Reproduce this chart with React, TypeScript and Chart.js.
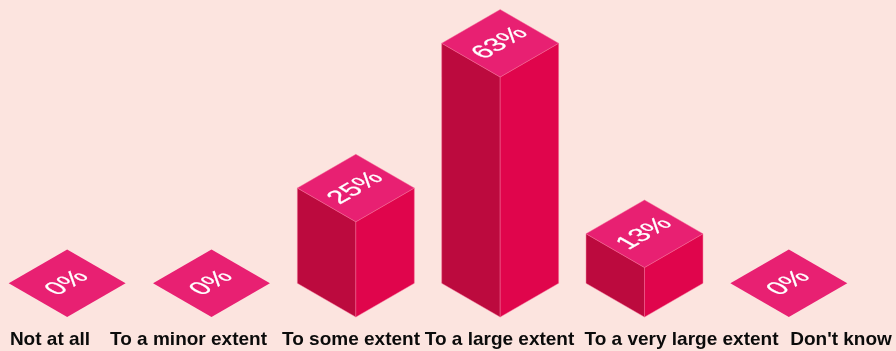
import { useEffect, useRef } from "react";
import { Chart, registerables } from "chart.js";

Chart.register(...registerables);

const categories = ["Not at all", "To a minor extent", "To some extent", "To a large extent", "To a very large extent", "Don't know"];
const shares = [0, 0, 25, 63, 13, 0];
const labelCentres = [50, 188.5, 351, 499.5, 681.5, 841];

const PAGE_COLOUR = "#FCE4DF";
const TOP_COLOUR = "#E82072";
const LEFT_COLOUR = "#BC0A3E";
const RIGHT_COLOUR = "#E0054C";
const EDGE_COLOUR = "rgba(244,110,150,0.75)";

// Draws each bar as an isometric block using the positions the bar controller computed.
const isoBlocks = {
  id: "isoBlocks",
  afterDatasetsDraw(chart: any) {
    const { ctx } = chart;
    const meta = chart.getDatasetMeta(0);
    meta.data.forEach((bar: any, i: number) => {
      const { x, y, base, width } = bar.getProps(["x", "y", "base", "width"], true);
      const hw = width / 2;
      const hh = hw * Math.tan(Math.PI / 6);
      const face = (pts: number[][], fill: string) => {
        ctx.beginPath();
        pts.forEach(([px, py], k) => (k ? ctx.lineTo(px, py) : ctx.moveTo(px, py)));
        ctx.closePath();
        ctx.fillStyle = fill;
        ctx.fill();
        if (shares[i] > 0) {
          ctx.lineWidth = 0.6;
          ctx.strokeStyle = EDGE_COLOUR;
          ctx.stroke();
        }
      };
      ctx.save();
      if (base - y > 0.5) {
        face([[x - hw, y], [x, y + hh], [x, base + hh], [x - hw, base]], LEFT_COLOUR);
        face([[x + hw, y], [x, y + hh], [x, base + hh], [x + hw, base]], RIGHT_COLOUR);
      }
      face([[x, y - hh], [x + hw, y], [x, y + hh], [x - hw, y]], TOP_COLOUR);

      // The value lies flat on the top face, so it takes the face's projection.
      const c = Math.cos(Math.PI / 6);
      ctx.transform(c, -0.5, c, 0.5, x, y);
      ctx.fillStyle = "#FFFFFF";
      ctx.strokeStyle = "#FFFFFF";
      ctx.lineWidth = 0.25;
      ctx.font = '400 26px "Liberation Sans"';
      ctx.textAlign = "center";
      ctx.textBaseline = "middle";
      ctx.fillText(`${shares[i]}%`, 0, 0);
      ctx.strokeText(`${shares[i]}%`, 0, 0);
      ctx.restore();
    });
  },
};

export default function App() {
  const ref = useRef<HTMLCanvasElement>(null);

  useEffect(() => {
    document.body.style.margin = "0";
    document.body.style.background = PAGE_COLOUR;
    const chart = new Chart(ref.current!, {
      type: "bar",
      data: {
        labels: categories,
        datasets: [
          {
            data: shares,
            backgroundColor: "transparent",
            categoryPercentage: 1,
            barPercentage: 0.81,
          },
        ],
      },
      options: {
        responsive: false,
        animation: false,
        layout: { autoPadding: false, padding: { left: 0, right: 35, top: 0, bottom: 0 } },
        plugins: { legend: { display: false }, tooltip: { enabled: false } },
        scales: {
          x: { type: "category", display: false },
          y: { display: false, min: -11.79, max: 74.36 },
          captions: {
            type: "linear",
            axis: "x",
            position: "bottom",
            offset: false,
            min: -5,
            max: 861,
            grid: { display: false, drawTicks: false, offset: false },
            border: { display: false },
            afterBuildTicks: (scale: any) => {
              scale.ticks = labelCentres.map((value) => ({ value }));
            },
            ticks: {
              autoSkip: false,
              maxRotation: 0,
              minRotation: 0,
              padding: 0,
              color: "#0B0B0B",
              font: { family: '"Liberation Sans"', size: 19, weight: "bold" },
              callback: (_v: any, i: number) => categories[i],
            },
          },
        },
      },
      plugins: [isoBlocks],
    } as any);
    return () => chart.destroy();
  }, []);

  // The plot starts just left of the page edge so the first block sits at the right inset.
  return (
    <div style={{ overflow: "hidden", width: 896, height: 351 }}>
      <canvas ref={ref} width={901} height={351} style={{ display: "block", marginLeft: -5, background: PAGE_COLOUR }} />
    </div>
  );
}
